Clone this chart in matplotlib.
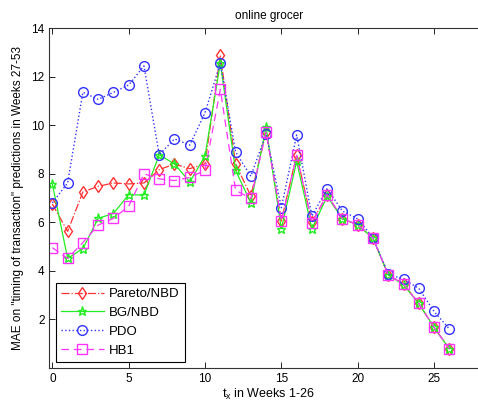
import matplotlib
matplotlib.use("Agg")
import matplotlib.pyplot as plt

plt.rcParams['font.family'] = ['Liberation Sans', 'DejaVu Sans']

weeks = list(range(27))
pareto = [6.75, 5.62, 7.25, 7.48, 7.62, 7.58, 7.62, 8.17, 8.4, 8.21, 8.41, 12.89, 8.41,
          7.08, 9.74, 6.05, 8.78, 6.0, 7.14, 6.14, 5.9, 5.34, 3.83, 3.45, 2.65, 1.66, 0.78]
bgnbd = [7.58, 4.51, 4.91, 6.16, 6.36, 7.14, 7.12, 8.78, 8.41, 7.66, 8.74, 12.57, 8.14,
         6.8, 9.92, 5.73, 8.51, 5.73, 7.07, 6.14, 5.9, 5.34, 3.83, 3.42, 2.65, 1.66, 0.78]
pdo = [6.8, 7.62, 11.36, 11.07, 11.36, 11.66, 12.45, 8.78, 9.44, 9.18, 10.52, 12.57, 8.9,
       7.9, 9.65, 6.6, 9.6, 6.25, 7.39, 6.46, 6.14, 5.36, 3.86, 3.65, 3.27, 2.32, 1.6]
hb1 = [4.95, 4.51, 5.16, 5.88, 6.16, 6.66, 8.0, 7.79, 7.72, 7.85, 8.14, 11.48, 7.32,
       6.98, 9.72, 6.05, 8.76, 5.98, 7.14, 6.14, 5.9, 5.34, 3.83, 3.45, 2.65, 1.66, 0.78]

xticks = [0, 5, 10, 15, 20, 25]
yticks = [2, 4, 6, 8, 10, 12, 14]

fig = plt.figure(figsize=(4.78, 4.09), dpi=100)
right_px = 488.0
ax = fig.add_axes([49.3/478, (409-367.7)/409, (right_px-49.3)/478, (367.7-28.3)/409])

ax.plot(weeks, pareto, color='#ff3333', linestyle='-.', marker='d', markersize=6,
        markerfacecolor='none', markeredgecolor='#ff3333', linewidth=0.9, label='Pareto/NBD')
ax.plot(weeks, bgnbd, color='#22ee22', linestyle='-', marker='*', markersize=6.5,
        markerfacecolor='none', markeredgecolor='#22ee22', linewidth=0.9, label='BG/NBD')
ax.plot(weeks, pdo, color='#3333ff', linestyle=':', marker='o', markersize=7,
        markerfacecolor='none', markeredgecolor='#3333ff', linewidth=1.0, label='PDO')
ax.plot(weeks, hb1, color='#ff33ff', linestyle='--', marker='s', markersize=7,
        markerfacecolor='none', markeredgecolor='#ff33ff', linewidth=0.9, label='HB1',
        dashes=(6, 4))

ax.set_xlim(-0.2, (right_px - 52.3) / 15.27)
ax.set_ylim(0, 14)
ax.set_xticks(xticks)
ax.set_yticks(yticks)
ax.tick_params(direction='in', top=True, right=True, labelsize=8.5, length=4, width=0.6)
for s in ax.spines.values():
    s.set_linewidth(0.8)
    s.set_color('#333333')

ax.set_title('online grocer', fontsize=8.5, pad=7)
ax.set_xlabel('$\\mathregular{t_x}$ in Weeks 1-26', fontsize=9, labelpad=2)
ax.set_ylabel('MAE on "timing of transaction" predictions in Weeks 27-53', fontsize=8.5, labelpad=5)

axw = right_px - 49.3
leg = ax.legend(loc='lower left', bbox_to_anchor=((56-49.3)/axw, (367.7-362)/339.4),
                fontsize=9.5, fancybox=False, edgecolor='black', framealpha=1,
                borderaxespad=0, handlelength=3.2, handletextpad=0.4, borderpad=0.4,
                labelspacing=0.5)
leg.get_frame().set_linewidth(0.8)

fig.savefig('out.png', dpi=100)
